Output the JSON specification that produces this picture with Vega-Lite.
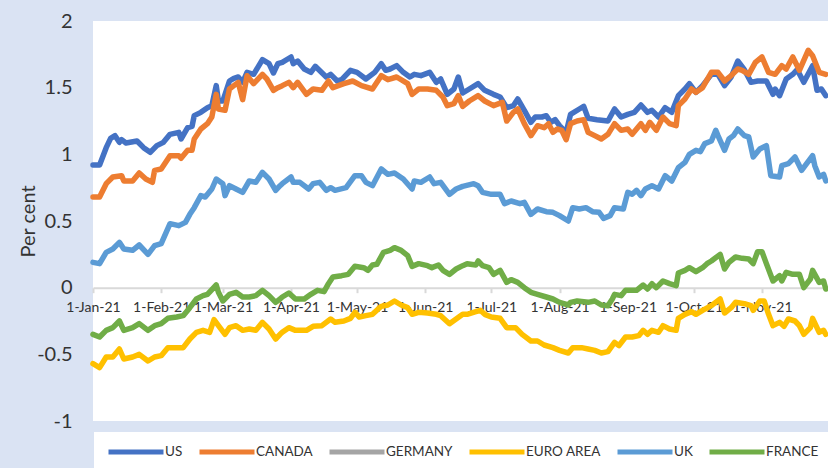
{
"$schema":"https://vega.github.io/schema/vega-lite/v6.json",
"width":735,"height":400,
"autosize":{"type":"none"},
"padding":{"left":93,"top":21,"right":0,"bottom":47},
"background":"#dae3f3",
"config":{"view":{"fill":"white","stroke":null},"font":"Lato"},
"data":{"values":[
{"c":"US","d":"2021-01-01","v":0.92},{"c":"US","d":"2021-01-04","v":0.92},{"c":"US","d":"2021-01-07","v":1.05},{"c":"US","d":"2021-01-09","v":1.12},{"c":"US","d":"2021-01-11","v":1.14},{"c":"US","d":"2021-01-13","v":1.09},{"c":"US","d":"2021-01-14","v":1.11},{"c":"US","d":"2021-01-16","v":1.085},{"c":"US","d":"2021-01-21","v":1.10},{"c":"US","d":"2021-01-24","v":1.05},{"c":"US","d":"2021-01-27","v":1.015},{"c":"US","d":"2021-01-30","v":1.065},{"c":"US","d":"2021-02-02","v":1.09},{"c":"US","d":"2021-02-05","v":1.15},{"c":"US","d":"2021-02-09","v":1.165},{"c":"US","d":"2021-02-10","v":1.115},{"c":"US","d":"2021-02-13","v":1.20},{"c":"US","d":"2021-02-15","v":1.21},{"c":"US","d":"2021-02-16","v":1.29},{"c":"US","d":"2021-02-19","v":1.315},{"c":"US","d":"2021-02-22","v":1.35},{"c":"US","d":"2021-02-24","v":1.365},{"c":"US","d":"2021-02-26","v":1.515},{"c":"US","d":"2021-02-27","v":1.40},{"c":"US","d":"2021-03-01","v":1.40},{"c":"US","d":"2021-03-04","v":1.55},{"c":"US","d":"2021-03-06","v":1.57},{"c":"US","d":"2021-03-08","v":1.58},{"c":"US","d":"2021-03-10","v":1.54},{"c":"US","d":"2021-03-12","v":1.615},{"c":"US","d":"2021-03-15","v":1.60},{"c":"US","d":"2021-03-19","v":1.71},{"c":"US","d":"2021-03-22","v":1.68},{"c":"US","d":"2021-03-24","v":1.61},{"c":"US","d":"2021-03-26","v":1.68},{"c":"US","d":"2021-03-28","v":1.69},{"c":"US","d":"2021-04-01","v":1.73},{"c":"US","d":"2021-04-02","v":1.68},{"c":"US","d":"2021-04-04","v":1.70},{"c":"US","d":"2021-04-07","v":1.64},{"c":"US","d":"2021-04-10","v":1.615},{"c":"US","d":"2021-04-12","v":1.66},{"c":"US","d":"2021-04-17","v":1.58},{"c":"US","d":"2021-04-19","v":1.60},{"c":"US","d":"2021-04-22","v":1.55},{"c":"US","d":"2021-04-24","v":1.56},{"c":"US","d":"2021-04-28","v":1.63},{"c":"US","d":"2021-05-01","v":1.615},{"c":"US","d":"2021-05-05","v":1.565},{"c":"US","d":"2021-05-09","v":1.615},{"c":"US","d":"2021-05-12","v":1.68},{"c":"US","d":"2021-05-14","v":1.63},{"c":"US","d":"2021-05-16","v":1.64},{"c":"US","d":"2021-05-19","v":1.665},{"c":"US","d":"2021-05-22","v":1.615},{"c":"US","d":"2021-05-25","v":1.58},{"c":"US","d":"2021-05-27","v":1.60},{"c":"US","d":"2021-05-30","v":1.59},{"c":"US","d":"2021-06-03","v":1.615},{"c":"US","d":"2021-06-06","v":1.54},{"c":"US","d":"2021-06-08","v":1.565},{"c":"US","d":"2021-06-11","v":1.45},{"c":"US","d":"2021-06-14","v":1.49},{"c":"US","d":"2021-06-16","v":1.58},{"c":"US","d":"2021-06-18","v":1.46},{"c":"US","d":"2021-06-21","v":1.49},{"c":"US","d":"2021-06-25","v":1.53},{"c":"US","d":"2021-06-28","v":1.48},{"c":"US","d":"2021-07-02","v":1.45},{"c":"US","d":"2021-07-05","v":1.43},{"c":"US","d":"2021-07-08","v":1.35},{"c":"US","d":"2021-07-11","v":1.365},{"c":"US","d":"2021-07-13","v":1.415},{"c":"US","d":"2021-07-16","v":1.33},{"c":"US","d":"2021-07-19","v":1.24},{"c":"US","d":"2021-07-21","v":1.28},{"c":"US","d":"2021-07-24","v":1.28},{"c":"US","d":"2021-07-26","v":1.29},{"c":"US","d":"2021-07-28","v":1.24},{"c":"US","d":"2021-07-30","v":1.26},{"c":"US","d":"2021-08-01","v":1.215},{"c":"US","d":"2021-08-04","v":1.165},{"c":"US","d":"2021-08-06","v":1.30},{"c":"US","d":"2021-08-10","v":1.34},{"c":"US","d":"2021-08-12","v":1.36},{"c":"US","d":"2021-08-14","v":1.27},{"c":"US","d":"2021-08-18","v":1.26},{"c":"US","d":"2021-08-23","v":1.25},{"c":"US","d":"2021-08-26","v":1.34},{"c":"US","d":"2021-08-29","v":1.28},{"c":"US","d":"2021-09-01","v":1.30},{"c":"US","d":"2021-09-04","v":1.315},{"c":"US","d":"2021-09-07","v":1.37},{"c":"US","d":"2021-09-10","v":1.315},{"c":"US","d":"2021-09-12","v":1.33},{"c":"US","d":"2021-09-15","v":1.28},{"c":"US","d":"2021-09-18","v":1.35},{"c":"US","d":"2021-09-21","v":1.315},{"c":"US","d":"2021-09-24","v":1.44},{"c":"US","d":"2021-09-27","v":1.49},{"c":"US","d":"2021-09-29","v":1.53},{"c":"US","d":"2021-10-02","v":1.465},{"c":"US","d":"2021-10-05","v":1.515},{"c":"US","d":"2021-10-09","v":1.60},{"c":"US","d":"2021-10-12","v":1.60},{"c":"US","d":"2021-10-15","v":1.515},{"c":"US","d":"2021-10-18","v":1.58},{"c":"US","d":"2021-10-21","v":1.70},{"c":"US","d":"2021-10-24","v":1.635},{"c":"US","d":"2021-10-27","v":1.54},{"c":"US","d":"2021-10-30","v":1.55},{"c":"US","d":"2021-11-03","v":1.55},{"c":"US","d":"2021-11-06","v":1.45},{"c":"US","d":"2021-11-07","v":1.49},{"c":"US","d":"2021-11-09","v":1.44},{"c":"US","d":"2021-11-12","v":1.565},{"c":"US","d":"2021-11-15","v":1.60},{"c":"US","d":"2021-11-17","v":1.635},{"c":"US","d":"2021-11-20","v":1.54},{"c":"US","d":"2021-11-24","v":1.665},{"c":"US","d":"2021-11-26","v":1.48},{"c":"US","d":"2021-11-28","v":1.49},{"c":"US","d":"2021-11-30","v":1.44},
{"c":"CANADA","d":"2021-01-01","v":0.68},{"c":"CANADA","d":"2021-01-04","v":0.68},{"c":"CANADA","d":"2021-01-07","v":0.78},{"c":"CANADA","d":"2021-01-10","v":0.83},{"c":"CANADA","d":"2021-01-14","v":0.84},{"c":"CANADA","d":"2021-01-15","v":0.80},{"c":"CANADA","d":"2021-01-19","v":0.80},{"c":"CANADA","d":"2021-01-22","v":0.86},{"c":"CANADA","d":"2021-01-25","v":0.815},{"c":"CANADA","d":"2021-01-28","v":0.79},{"c":"CANADA","d":"2021-01-29","v":0.88},{"c":"CANADA","d":"2021-02-01","v":0.89},{"c":"CANADA","d":"2021-02-05","v":0.99},{"c":"CANADA","d":"2021-02-09","v":0.99},{"c":"CANADA","d":"2021-02-10","v":0.97},{"c":"CANADA","d":"2021-02-13","v":1.03},{"c":"CANADA","d":"2021-02-15","v":1.03},{"c":"CANADA","d":"2021-02-16","v":1.115},{"c":"CANADA","d":"2021-02-19","v":1.19},{"c":"CANADA","d":"2021-02-22","v":1.23},{"c":"CANADA","d":"2021-02-24","v":1.28},{"c":"CANADA","d":"2021-02-26","v":1.45},{"c":"CANADA","d":"2021-02-27","v":1.34},{"c":"CANADA","d":"2021-03-02","v":1.33},{"c":"CANADA","d":"2021-03-04","v":1.49},{"c":"CANADA","d":"2021-03-06","v":1.515},{"c":"CANADA","d":"2021-03-08","v":1.54},{"c":"CANADA","d":"2021-03-10","v":1.41},{"c":"CANADA","d":"2021-03-12","v":1.59},{"c":"CANADA","d":"2021-03-15","v":1.53},{"c":"CANADA","d":"2021-03-19","v":1.60},{"c":"CANADA","d":"2021-03-21","v":1.565},{"c":"CANADA","d":"2021-03-24","v":1.48},{"c":"CANADA","d":"2021-03-26","v":1.50},{"c":"CANADA","d":"2021-03-28","v":1.515},{"c":"CANADA","d":"2021-03-31","v":1.54},{"c":"CANADA","d":"2021-04-02","v":1.50},{"c":"CANADA","d":"2021-04-04","v":1.54},{"c":"CANADA","d":"2021-04-08","v":1.45},{"c":"CANADA","d":"2021-04-11","v":1.49},{"c":"CANADA","d":"2021-04-15","v":1.48},{"c":"CANADA","d":"2021-04-18","v":1.55},{"c":"CANADA","d":"2021-04-20","v":1.50},{"c":"CANADA","d":"2021-04-25","v":1.53},{"c":"CANADA","d":"2021-04-29","v":1.55},{"c":"CANADA","d":"2021-05-03","v":1.515},{"c":"CANADA","d":"2021-05-08","v":1.49},{"c":"CANADA","d":"2021-05-12","v":1.59},{"c":"CANADA","d":"2021-05-15","v":1.56},{"c":"CANADA","d":"2021-05-19","v":1.58},{"c":"CANADA","d":"2021-05-24","v":1.53},{"c":"CANADA","d":"2021-05-26","v":1.45},{"c":"CANADA","d":"2021-05-29","v":1.49},{"c":"CANADA","d":"2021-06-02","v":1.49},{"c":"CANADA","d":"2021-06-06","v":1.48},{"c":"CANADA","d":"2021-06-09","v":1.43},{"c":"CANADA","d":"2021-06-11","v":1.365},{"c":"CANADA","d":"2021-06-14","v":1.38},{"c":"CANADA","d":"2021-06-16","v":1.44},{"c":"CANADA","d":"2021-06-18","v":1.36},{"c":"CANADA","d":"2021-06-21","v":1.40},{"c":"CANADA","d":"2021-06-25","v":1.44},{"c":"CANADA","d":"2021-06-28","v":1.40},{"c":"CANADA","d":"2021-07-02","v":1.365},{"c":"CANADA","d":"2021-07-06","v":1.39},{"c":"CANADA","d":"2021-07-08","v":1.25},{"c":"CANADA","d":"2021-07-11","v":1.315},{"c":"CANADA","d":"2021-07-13","v":1.34},{"c":"CANADA","d":"2021-07-16","v":1.23},{"c":"CANADA","d":"2021-07-19","v":1.14},{"c":"CANADA","d":"2021-07-22","v":1.215},{"c":"CANADA","d":"2021-07-25","v":1.20},{"c":"CANADA","d":"2021-07-27","v":1.23},{"c":"CANADA","d":"2021-07-29","v":1.165},{"c":"CANADA","d":"2021-07-31","v":1.19},{"c":"CANADA","d":"2021-08-02","v":1.18},{"c":"CANADA","d":"2021-08-04","v":1.11},{"c":"CANADA","d":"2021-08-06","v":1.23},{"c":"CANADA","d":"2021-08-09","v":1.25},{"c":"CANADA","d":"2021-08-12","v":1.26},{"c":"CANADA","d":"2021-08-14","v":1.165},{"c":"CANADA","d":"2021-08-17","v":1.14},{"c":"CANADA","d":"2021-08-20","v":1.115},{"c":"CANADA","d":"2021-08-23","v":1.15},{"c":"CANADA","d":"2021-08-26","v":1.23},{"c":"CANADA","d":"2021-08-29","v":1.18},{"c":"CANADA","d":"2021-09-01","v":1.19},{"c":"CANADA","d":"2021-09-03","v":1.15},{"c":"CANADA","d":"2021-09-05","v":1.19},{"c":"CANADA","d":"2021-09-07","v":1.23},{"c":"CANADA","d":"2021-09-09","v":1.18},{"c":"CANADA","d":"2021-09-11","v":1.24},{"c":"CANADA","d":"2021-09-14","v":1.18},{"c":"CANADA","d":"2021-09-17","v":1.28},{"c":"CANADA","d":"2021-09-20","v":1.23},{"c":"CANADA","d":"2021-09-23","v":1.215},{"c":"CANADA","d":"2021-09-24","v":1.365},{"c":"CANADA","d":"2021-09-27","v":1.415},{"c":"CANADA","d":"2021-09-30","v":1.49},{"c":"CANADA","d":"2021-10-02","v":1.465},{"c":"CANADA","d":"2021-10-05","v":1.50},{"c":"CANADA","d":"2021-10-09","v":1.615},{"c":"CANADA","d":"2021-10-12","v":1.615},{"c":"CANADA","d":"2021-10-15","v":1.55},{"c":"CANADA","d":"2021-10-18","v":1.59},{"c":"CANADA","d":"2021-10-21","v":1.64},{"c":"CANADA","d":"2021-10-23","v":1.63},{"c":"CANADA","d":"2021-10-26","v":1.60},{"c":"CANADA","d":"2021-10-29","v":1.69},{"c":"CANADA","d":"2021-11-01","v":1.73},{"c":"CANADA","d":"2021-11-04","v":1.615},{"c":"CANADA","d":"2021-11-07","v":1.60},{"c":"CANADA","d":"2021-11-10","v":1.665},{"c":"CANADA","d":"2021-11-12","v":1.64},{"c":"CANADA","d":"2021-11-15","v":1.73},{"c":"CANADA","d":"2021-11-18","v":1.63},{"c":"CANADA","d":"2021-11-22","v":1.78},{"c":"CANADA","d":"2021-11-24","v":1.74},{"c":"CANADA","d":"2021-11-27","v":1.615},{"c":"CANADA","d":"2021-11-30","v":1.60},
{"c":"EURO AREA","d":"2021-01-01","v":-0.57},{"c":"EURO AREA","d":"2021-01-04","v":-0.60},{"c":"EURO AREA","d":"2021-01-07","v":-0.52},{"c":"EURO AREA","d":"2021-01-10","v":-0.52},{"c":"EURO AREA","d":"2021-01-13","v":-0.46},{"c":"EURO AREA","d":"2021-01-15","v":-0.535},{"c":"EURO AREA","d":"2021-01-19","v":-0.52},{"c":"EURO AREA","d":"2021-01-22","v":-0.50},{"c":"EURO AREA","d":"2021-01-26","v":-0.55},{"c":"EURO AREA","d":"2021-01-29","v":-0.52},{"c":"EURO AREA","d":"2021-02-01","v":-0.51},{"c":"EURO AREA","d":"2021-02-04","v":-0.45},{"c":"EURO AREA","d":"2021-02-08","v":-0.45},{"c":"EURO AREA","d":"2021-02-11","v":-0.45},{"c":"EURO AREA","d":"2021-02-14","v":-0.385},{"c":"EURO AREA","d":"2021-02-17","v":-0.335},{"c":"EURO AREA","d":"2021-02-20","v":-0.32},{"c":"EURO AREA","d":"2021-02-23","v":-0.335},{"c":"EURO AREA","d":"2021-02-25","v":-0.24},{"c":"EURO AREA","d":"2021-02-27","v":-0.285},{"c":"EURO AREA","d":"2021-03-02","v":-0.35},{"c":"EURO AREA","d":"2021-03-04","v":-0.30},{"c":"EURO AREA","d":"2021-03-07","v":-0.285},{"c":"EURO AREA","d":"2021-03-10","v":-0.32},{"c":"EURO AREA","d":"2021-03-13","v":-0.31},{"c":"EURO AREA","d":"2021-03-16","v":-0.32},{"c":"EURO AREA","d":"2021-03-19","v":-0.26},{"c":"EURO AREA","d":"2021-03-22","v":-0.31},{"c":"EURO AREA","d":"2021-03-25","v":-0.385},{"c":"EURO AREA","d":"2021-03-27","v":-0.35},{"c":"EURO AREA","d":"2021-03-28","v":-0.335},{"c":"EURO AREA","d":"2021-03-31","v":-0.30},{"c":"EURO AREA","d":"2021-04-03","v":-0.32},{"c":"EURO AREA","d":"2021-04-08","v":-0.32},{"c":"EURO AREA","d":"2021-04-11","v":-0.29},{"c":"EURO AREA","d":"2021-04-15","v":-0.285},{"c":"EURO AREA","d":"2021-04-19","v":-0.235},{"c":"EURO AREA","d":"2021-04-21","v":-0.26},{"c":"EURO AREA","d":"2021-04-25","v":-0.25},{"c":"EURO AREA","d":"2021-04-28","v":-0.23},{"c":"EURO AREA","d":"2021-04-30","v":-0.185},{"c":"EURO AREA","d":"2021-05-02","v":-0.22},{"c":"EURO AREA","d":"2021-05-05","v":-0.21},{"c":"EURO AREA","d":"2021-05-08","v":-0.20},{"c":"EURO AREA","d":"2021-05-12","v":-0.14},{"c":"EURO AREA","d":"2021-05-15","v":-0.13},{"c":"EURO AREA","d":"2021-05-18","v":-0.10},{"c":"EURO AREA","d":"2021-05-21","v":-0.13},{"c":"EURO AREA","d":"2021-05-24","v":-0.15},{"c":"EURO AREA","d":"2021-05-26","v":-0.20},{"c":"EURO AREA","d":"2021-05-29","v":-0.185},{"c":"EURO AREA","d":"2021-06-02","v":-0.19},{"c":"EURO AREA","d":"2021-06-06","v":-0.20},{"c":"EURO AREA","d":"2021-06-08","v":-0.21},{"c":"EURO AREA","d":"2021-06-12","v":-0.27},{"c":"EURO AREA","d":"2021-06-15","v":-0.235},{"c":"EURO AREA","d":"2021-06-18","v":-0.20},{"c":"EURO AREA","d":"2021-06-20","v":-0.20},{"c":"EURO AREA","d":"2021-06-24","v":-0.18},{"c":"EURO AREA","d":"2021-06-26","v":-0.17},{"c":"EURO AREA","d":"2021-06-28","v":-0.20},{"c":"EURO AREA","d":"2021-07-01","v":-0.22},{"c":"EURO AREA","d":"2021-07-05","v":-0.23},{"c":"EURO AREA","d":"2021-07-08","v":-0.30},{"c":"EURO AREA","d":"2021-07-12","v":-0.30},{"c":"EURO AREA","d":"2021-07-15","v":-0.35},{"c":"EURO AREA","d":"2021-07-19","v":-0.40},{"c":"EURO AREA","d":"2021-07-22","v":-0.40},{"c":"EURO AREA","d":"2021-07-25","v":-0.43},{"c":"EURO AREA","d":"2021-07-29","v":-0.45},{"c":"EURO AREA","d":"2021-08-01","v":-0.47},{"c":"EURO AREA","d":"2021-08-05","v":-0.49},{"c":"EURO AREA","d":"2021-08-07","v":-0.45},{"c":"EURO AREA","d":"2021-08-11","v":-0.45},{"c":"EURO AREA","d":"2021-08-14","v":-0.46},{"c":"EURO AREA","d":"2021-08-17","v":-0.47},{"c":"EURO AREA","d":"2021-08-20","v":-0.49},{"c":"EURO AREA","d":"2021-08-23","v":-0.48},{"c":"EURO AREA","d":"2021-08-26","v":-0.41},{"c":"EURO AREA","d":"2021-08-28","v":-0.435},{"c":"EURO AREA","d":"2021-08-31","v":-0.37},{"c":"EURO AREA","d":"2021-09-03","v":-0.37},{"c":"EURO AREA","d":"2021-09-06","v":-0.36},{"c":"EURO AREA","d":"2021-09-08","v":-0.32},{"c":"EURO AREA","d":"2021-09-10","v":-0.35},{"c":"EURO AREA","d":"2021-09-12","v":-0.32},{"c":"EURO AREA","d":"2021-09-15","v":-0.335},{"c":"EURO AREA","d":"2021-09-17","v":-0.285},{"c":"EURO AREA","d":"2021-09-20","v":-0.31},{"c":"EURO AREA","d":"2021-09-23","v":-0.32},{"c":"EURO AREA","d":"2021-09-24","v":-0.23},{"c":"EURO AREA","d":"2021-09-27","v":-0.20},{"c":"EURO AREA","d":"2021-09-30","v":-0.18},{"c":"EURO AREA","d":"2021-10-02","v":-0.20},{"c":"EURO AREA","d":"2021-10-05","v":-0.17},{"c":"EURO AREA","d":"2021-10-09","v":-0.135},{"c":"EURO AREA","d":"2021-10-13","v":-0.085},{"c":"EURO AREA","d":"2021-10-15","v":-0.19},{"c":"EURO AREA","d":"2021-10-18","v":-0.15},{"c":"EURO AREA","d":"2021-10-20","v":-0.11},{"c":"EURO AREA","d":"2021-10-24","v":-0.12},{"c":"EURO AREA","d":"2021-10-27","v":-0.135},{"c":"EURO AREA","d":"2021-10-28","v":-0.17},{"c":"EURO AREA","d":"2021-10-31","v":-0.10},{"c":"EURO AREA","d":"2021-11-02","v":-0.10},{"c":"EURO AREA","d":"2021-11-04","v":-0.20},{"c":"EURO AREA","d":"2021-11-06","v":-0.285},{"c":"EURO AREA","d":"2021-11-09","v":-0.26},{"c":"EURO AREA","d":"2021-11-11","v":-0.29},{"c":"EURO AREA","d":"2021-11-13","v":-0.235},{"c":"EURO AREA","d":"2021-11-16","v":-0.25},{"c":"EURO AREA","d":"2021-11-18","v":-0.285},{"c":"EURO AREA","d":"2021-11-20","v":-0.35},{"c":"EURO AREA","d":"2021-11-23","v":-0.30},{"c":"EURO AREA","d":"2021-11-24","v":-0.23},{"c":"EURO AREA","d":"2021-11-27","v":-0.335},{"c":"EURO AREA","d":"2021-11-29","v":-0.32},{"c":"EURO AREA","d":"2021-11-30","v":-0.35},
{"c":"UK","d":"2021-01-01","v":0.19},{"c":"UK","d":"2021-01-04","v":0.18},{"c":"UK","d":"2021-01-07","v":0.265},{"c":"UK","d":"2021-01-10","v":0.29},{"c":"UK","d":"2021-01-13","v":0.34},{"c":"UK","d":"2021-01-15","v":0.29},{"c":"UK","d":"2021-01-19","v":0.28},{"c":"UK","d":"2021-01-22","v":0.32},{"c":"UK","d":"2021-01-26","v":0.25},{"c":"UK","d":"2021-01-29","v":0.315},{"c":"UK","d":"2021-02-01","v":0.33},{"c":"UK","d":"2021-02-05","v":0.48},{"c":"UK","d":"2021-02-09","v":0.465},{"c":"UK","d":"2021-02-12","v":0.49},{"c":"UK","d":"2021-02-14","v":0.55},{"c":"UK","d":"2021-02-16","v":0.60},{"c":"UK","d":"2021-02-19","v":0.69},{"c":"UK","d":"2021-02-21","v":0.68},{"c":"UK","d":"2021-02-24","v":0.74},{"c":"UK","d":"2021-02-26","v":0.815},{"c":"UK","d":"2021-03-01","v":0.78},{"c":"UK","d":"2021-03-02","v":0.69},{"c":"UK","d":"2021-03-04","v":0.765},{"c":"UK","d":"2021-03-07","v":0.74},{"c":"UK","d":"2021-03-10","v":0.715},{"c":"UK","d":"2021-03-13","v":0.80},{"c":"UK","d":"2021-03-16","v":0.79},{"c":"UK","d":"2021-03-19","v":0.865},{"c":"UK","d":"2021-03-22","v":0.815},{"c":"UK","d":"2021-03-25","v":0.73},{"c":"UK","d":"2021-03-27","v":0.765},{"c":"UK","d":"2021-03-28","v":0.78},{"c":"UK","d":"2021-04-01","v":0.83},{"c":"UK","d":"2021-04-02","v":0.79},{"c":"UK","d":"2021-04-05","v":0.79},{"c":"UK","d":"2021-04-09","v":0.74},{"c":"UK","d":"2021-04-11","v":0.78},{"c":"UK","d":"2021-04-14","v":0.79},{"c":"UK","d":"2021-04-17","v":0.73},{"c":"UK","d":"2021-04-19","v":0.75},{"c":"UK","d":"2021-04-21","v":0.73},{"c":"UK","d":"2021-04-26","v":0.75},{"c":"UK","d":"2021-04-30","v":0.84},{"c":"UK","d":"2021-05-03","v":0.84},{"c":"UK","d":"2021-05-05","v":0.79},{"c":"UK","d":"2021-05-08","v":0.765},{"c":"UK","d":"2021-05-12","v":0.89},{"c":"UK","d":"2021-05-15","v":0.85},{"c":"UK","d":"2021-05-18","v":0.86},{"c":"UK","d":"2021-05-22","v":0.815},{"c":"UK","d":"2021-05-26","v":0.74},{"c":"UK","d":"2021-05-27","v":0.80},{"c":"UK","d":"2021-05-30","v":0.79},{"c":"UK","d":"2021-06-03","v":0.83},{"c":"UK","d":"2021-06-05","v":0.78},{"c":"UK","d":"2021-06-08","v":0.79},{"c":"UK","d":"2021-06-12","v":0.70},{"c":"UK","d":"2021-06-15","v":0.74},{"c":"UK","d":"2021-06-18","v":0.76},{"c":"UK","d":"2021-06-23","v":0.78},{"c":"UK","d":"2021-06-25","v":0.765},{"c":"UK","d":"2021-06-27","v":0.715},{"c":"UK","d":"2021-07-01","v":0.70},{"c":"UK","d":"2021-07-05","v":0.70},{"c":"UK","d":"2021-07-07","v":0.63},{"c":"UK","d":"2021-07-10","v":0.65},{"c":"UK","d":"2021-07-14","v":0.63},{"c":"UK","d":"2021-07-16","v":0.64},{"c":"UK","d":"2021-07-19","v":0.55},{"c":"UK","d":"2021-07-22","v":0.59},{"c":"UK","d":"2021-07-26","v":0.57},{"c":"UK","d":"2021-07-29","v":0.565},{"c":"UK","d":"2021-08-01","v":0.54},{"c":"UK","d":"2021-08-05","v":0.50},{"c":"UK","d":"2021-08-07","v":0.60},{"c":"UK","d":"2021-08-10","v":0.59},{"c":"UK","d":"2021-08-13","v":0.60},{"c":"UK","d":"2021-08-16","v":0.57},{"c":"UK","d":"2021-08-19","v":0.565},{"c":"UK","d":"2021-08-21","v":0.52},{"c":"UK","d":"2021-08-24","v":0.54},{"c":"UK","d":"2021-08-26","v":0.60},{"c":"UK","d":"2021-08-30","v":0.59},{"c":"UK","d":"2021-09-01","v":0.715},{"c":"UK","d":"2021-09-03","v":0.70},{"c":"UK","d":"2021-09-05","v":0.73},{"c":"UK","d":"2021-09-07","v":0.69},{"c":"UK","d":"2021-09-09","v":0.74},{"c":"UK","d":"2021-09-12","v":0.765},{"c":"UK","d":"2021-09-15","v":0.74},{"c":"UK","d":"2021-09-18","v":0.84},{"c":"UK","d":"2021-09-21","v":0.80},{"c":"UK","d":"2021-09-24","v":0.90},{"c":"UK","d":"2021-09-27","v":0.94},{"c":"UK","d":"2021-09-29","v":1.00},{"c":"UK","d":"2021-10-02","v":1.03},{"c":"UK","d":"2021-10-04","v":1.02},{"c":"UK","d":"2021-10-06","v":1.08},{"c":"UK","d":"2021-10-09","v":1.10},{"c":"UK","d":"2021-10-11","v":1.18},{"c":"UK","d":"2021-10-12","v":1.14},{"c":"UK","d":"2021-10-15","v":1.03},{"c":"UK","d":"2021-10-17","v":1.115},{"c":"UK","d":"2021-10-19","v":1.14},{"c":"UK","d":"2021-10-21","v":1.19},{"c":"UK","d":"2021-10-24","v":1.14},{"c":"UK","d":"2021-10-26","v":1.13},{"c":"UK","d":"2021-10-28","v":0.98},{"c":"UK","d":"2021-10-31","v":1.04},{"c":"UK","d":"2021-11-03","v":1.065},{"c":"UK","d":"2021-11-05","v":0.84},{"c":"UK","d":"2021-11-09","v":0.83},{"c":"UK","d":"2021-11-10","v":0.915},{"c":"UK","d":"2021-11-13","v":0.93},{"c":"UK","d":"2021-11-16","v":0.98},{"c":"UK","d":"2021-11-19","v":0.88},{"c":"UK","d":"2021-11-24","v":0.99},{"c":"UK","d":"2021-11-25","v":0.915},{"c":"UK","d":"2021-11-27","v":0.83},{"c":"UK","d":"2021-11-29","v":0.85},{"c":"UK","d":"2021-11-30","v":0.80},
{"c":"FRANCE","d":"2021-01-01","v":-0.35},{"c":"FRANCE","d":"2021-01-04","v":-0.37},{"c":"FRANCE","d":"2021-01-07","v":-0.32},{"c":"FRANCE","d":"2021-01-10","v":-0.30},{"c":"FRANCE","d":"2021-01-13","v":-0.25},{"c":"FRANCE","d":"2021-01-15","v":-0.32},{"c":"FRANCE","d":"2021-01-19","v":-0.30},{"c":"FRANCE","d":"2021-01-22","v":-0.27},{"c":"FRANCE","d":"2021-01-26","v":-0.32},{"c":"FRANCE","d":"2021-01-29","v":-0.285},{"c":"FRANCE","d":"2021-02-01","v":-0.27},{"c":"FRANCE","d":"2021-02-04","v":-0.23},{"c":"FRANCE","d":"2021-02-08","v":-0.22},{"c":"FRANCE","d":"2021-02-11","v":-0.21},{"c":"FRANCE","d":"2021-02-14","v":-0.15},{"c":"FRANCE","d":"2021-02-17","v":-0.085},{"c":"FRANCE","d":"2021-02-20","v":-0.06},{"c":"FRANCE","d":"2021-02-22","v":-0.05},{"c":"FRANCE","d":"2021-02-26","v":0.02},{"c":"FRANCE","d":"2021-02-27","v":-0.035},{"c":"FRANCE","d":"2021-03-01","v":-0.10},{"c":"FRANCE","d":"2021-03-04","v":-0.05},{"c":"FRANCE","d":"2021-03-07","v":-0.035},{"c":"FRANCE","d":"2021-03-10","v":-0.07},{"c":"FRANCE","d":"2021-03-13","v":-0.07},{"c":"FRANCE","d":"2021-03-16","v":-0.06},{"c":"FRANCE","d":"2021-03-19","v":-0.02},{"c":"FRANCE","d":"2021-03-22","v":-0.06},{"c":"FRANCE","d":"2021-03-25","v":-0.11},{"c":"FRANCE","d":"2021-03-27","v":-0.085},{"c":"FRANCE","d":"2021-03-28","v":-0.07},{"c":"FRANCE","d":"2021-03-31","v":-0.04},{"c":"FRANCE","d":"2021-04-03","v":-0.085},{"c":"FRANCE","d":"2021-04-07","v":-0.085},{"c":"FRANCE","d":"2021-04-10","v":-0.05},{"c":"FRANCE","d":"2021-04-13","v":-0.02},{"c":"FRANCE","d":"2021-04-16","v":-0.03},{"c":"FRANCE","d":"2021-04-18","v":0.03},{"c":"FRANCE","d":"2021-04-20","v":0.08},{"c":"FRANCE","d":"2021-04-24","v":0.09},{"c":"FRANCE","d":"2021-04-27","v":0.10},{"c":"FRANCE","d":"2021-04-30","v":0.16},{"c":"FRANCE","d":"2021-05-04","v":0.15},{"c":"FRANCE","d":"2021-05-06","v":0.13},{"c":"FRANCE","d":"2021-05-08","v":0.17},{"c":"FRANCE","d":"2021-05-10","v":0.175},{"c":"FRANCE","d":"2021-05-13","v":0.265},{"c":"FRANCE","d":"2021-05-16","v":0.28},{"c":"FRANCE","d":"2021-05-18","v":0.30},{"c":"FRANCE","d":"2021-05-21","v":0.28},{"c":"FRANCE","d":"2021-05-24","v":0.24},{"c":"FRANCE","d":"2021-05-26","v":0.16},{"c":"FRANCE","d":"2021-05-29","v":0.18},{"c":"FRANCE","d":"2021-06-02","v":0.165},{"c":"FRANCE","d":"2021-06-04","v":0.15},{"c":"FRANCE","d":"2021-06-07","v":0.17},{"c":"FRANCE","d":"2021-06-09","v":0.13},{"c":"FRANCE","d":"2021-06-12","v":0.10},{"c":"FRANCE","d":"2021-06-15","v":0.14},{"c":"FRANCE","d":"2021-06-18","v":0.165},{"c":"FRANCE","d":"2021-06-20","v":0.18},{"c":"FRANCE","d":"2021-06-24","v":0.17},{"c":"FRANCE","d":"2021-06-25","v":0.20},{"c":"FRANCE","d":"2021-06-27","v":0.165},{"c":"FRANCE","d":"2021-06-30","v":0.15},{"c":"FRANCE","d":"2021-07-02","v":0.10},{"c":"FRANCE","d":"2021-07-05","v":0.13},{"c":"FRANCE","d":"2021-07-08","v":0.04},{"c":"FRANCE","d":"2021-07-10","v":0.06},{"c":"FRANCE","d":"2021-07-13","v":0.04},{"c":"FRANCE","d":"2021-07-16","v":0.00},{"c":"FRANCE","d":"2021-07-19","v":-0.035},{"c":"FRANCE","d":"2021-07-22","v":-0.05},{"c":"FRANCE","d":"2021-07-26","v":-0.07},{"c":"FRANCE","d":"2021-07-29","v":-0.085},{"c":"FRANCE","d":"2021-08-01","v":-0.11},{"c":"FRANCE","d":"2021-08-05","v":-0.13},{"c":"FRANCE","d":"2021-08-06","v":-0.11},{"c":"FRANCE","d":"2021-08-09","v":-0.10},{"c":"FRANCE","d":"2021-08-14","v":-0.11},{"c":"FRANCE","d":"2021-08-17","v":-0.10},{"c":"FRANCE","d":"2021-08-20","v":-0.13},{"c":"FRANCE","d":"2021-08-23","v":-0.135},{"c":"FRANCE","d":"2021-08-25","v":-0.085},{"c":"FRANCE","d":"2021-08-26","v":-0.05},{"c":"FRANCE","d":"2021-08-29","v":-0.06},{"c":"FRANCE","d":"2021-08-31","v":-0.02},{"c":"FRANCE","d":"2021-09-03","v":-0.02},{"c":"FRANCE","d":"2021-09-05","v":-0.02},{"c":"FRANCE","d":"2021-09-08","v":0.02},{"c":"FRANCE","d":"2021-09-10","v":-0.01},{"c":"FRANCE","d":"2021-09-12","v":0.03},{"c":"FRANCE","d":"2021-09-14","v":0.00},{"c":"FRANCE","d":"2021-09-17","v":0.05},{"c":"FRANCE","d":"2021-09-20","v":0.03},{"c":"FRANCE","d":"2021-09-23","v":0.015},{"c":"FRANCE","d":"2021-09-24","v":0.11},{"c":"FRANCE","d":"2021-09-27","v":0.13},{"c":"FRANCE","d":"2021-09-29","v":0.15},{"c":"FRANCE","d":"2021-10-02","v":0.12},{"c":"FRANCE","d":"2021-10-05","v":0.15},{"c":"FRANCE","d":"2021-10-07","v":0.18},{"c":"FRANCE","d":"2021-10-09","v":0.20},{"c":"FRANCE","d":"2021-10-13","v":0.25},{"c":"FRANCE","d":"2021-10-15","v":0.14},{"c":"FRANCE","d":"2021-10-17","v":0.19},{"c":"FRANCE","d":"2021-10-20","v":0.23},{"c":"FRANCE","d":"2021-10-23","v":0.22},{"c":"FRANCE","d":"2021-10-26","v":0.215},{"c":"FRANCE","d":"2021-10-28","v":0.18},{"c":"FRANCE","d":"2021-10-30","v":0.27},{"c":"FRANCE","d":"2021-11-01","v":0.27},{"c":"FRANCE","d":"2021-11-03","v":0.18},{"c":"FRANCE","d":"2021-11-06","v":0.05},{"c":"FRANCE","d":"2021-11-09","v":0.09},{"c":"FRANCE","d":"2021-11-10","v":0.05},{"c":"FRANCE","d":"2021-11-12","v":0.115},{"c":"FRANCE","d":"2021-11-15","v":0.10},{"c":"FRANCE","d":"2021-11-18","v":0.10},{"c":"FRANCE","d":"2021-11-20","v":0.00},{"c":"FRANCE","d":"2021-11-23","v":0.065},{"c":"FRANCE","d":"2021-11-24","v":0.13},{"c":"FRANCE","d":"2021-11-27","v":0.04},{"c":"FRANCE","d":"2021-11-29","v":0.05},{"c":"FRANCE","d":"2021-11-30","v":-0.01}
]},
"mark":{"type":"line","strokeWidth":5.5,"strokeJoin":"round","strokeCap":"round"},
"encoding":{
"x":{"field":"d","type":"temporal",
 "scale":{"type":"utc","domain":[{"year":2021,"month":1,"date":1,"utc":true},{"year":2021,"month":12,"date":1,"utc":true}]},
 "axis":{"orient":"bottom","offset":-133.3,"title":null,"grid":false,
  "values":[{"year":2021,"month":1,"date":1,"utc":true},{"year":2021,"month":2,"date":1,"utc":true},{"year":2021,"month":3,"date":1,"utc":true},{"year":2021,"month":4,"date":1,"utc":true},{"year":2021,"month":5,"date":1,"utc":true},{"year":2021,"month":6,"date":1,"utc":true},{"year":2021,"month":7,"date":1,"utc":true},{"year":2021,"month":8,"date":1,"utc":true},{"year":2021,"month":9,"date":1,"utc":true},{"year":2021,"month":10,"date":1,"utc":true},{"year":2021,"month":11,"date":1,"utc":true}],
  "format":"%-d-%b-%y","labelFont":"Lato","labelFontSize":14,"labelColor":"#333333","labelPadding":8,"labelOverlap":false,"labelFlush":false,
  "domainColor":"#d9d9d9","domainWidth":2,"tickColor":"#d9d9d9","tickWidth":2,"tickSize":5}},
"y":{"field":"v","type":"quantitative",
 "scale":{"domain":[-1,2],"nice":false,"zero":false},
 "axis":{"values":[-1,-0.5,0,0.5,1,1.5,2],"format":".1~f","labelExpr":"replace(datum.label, '\u2212', '-')",
  "grid":false,"domain":false,"ticks":false,"tickSize":0,"labelPadding":21,"labelFont":"Lato","labelFontSize":20,"labelColor":"#333333",
  "title":"Per cent","titleFont":"Lato","titleFontSize":20,"titleFontWeight":"normal","titleColor":"#333333","titlePadding":-2}},
"color":{"field":"c","type":"nominal",
 "scale":{"domain":["US","CANADA","GERMANY","EURO AREA","UK","FRANCE"],"range":["#4472C4","#ED7D31","#A5A5A5","#FFC000","#5B9BD5","#70AD47"]},
 "legend":{"title":null,"orient":"none","legendX":1,"legendY":411,"direction":"horizontal","fillColor":"white","padding":12,
  "symbolType":"M-1,0H9","symbolSize":121,"symbolStrokeWidth":5,"labelFont":"Lato","labelFontSize":13.5,"labelColor":"#333333","labelOffset":43,"columnPadding":6}}
}
}
